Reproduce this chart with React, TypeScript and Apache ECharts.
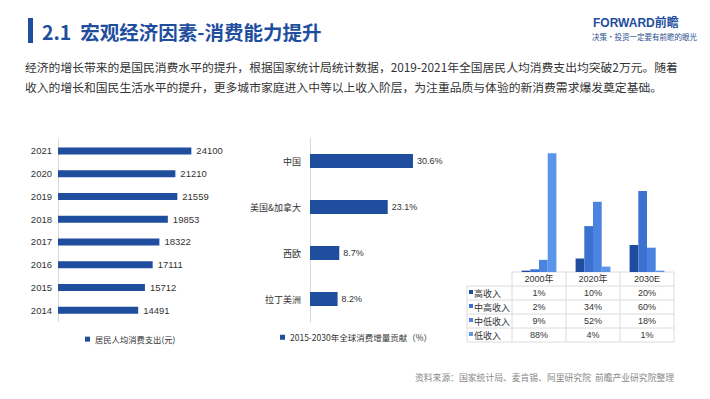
import React, { useEffect, useRef } from "react";
import * as echarts from "echarts";

const years = ["2021", "2020", "2019", "2018", "2017", "2016", "2015", "2014"];
const spending = [24100, 21210, 21559, 19853, 18322, 17111, 15712, 14491];
const spendingName = "居民人均消费支出(元)";

const regions = ["中国", "美国&加拿大", "西欧", "拉丁美洲"];
const contribution = [30.6, 23.1, 8.7, 8.2];
const contributionName = "2015-2030年全球消费增量贡献（%）";

const periods = ["2000年", "2020年", "2030E"];
const incomeGroups = ["高收入", "中高收入", "中低收入", "低收入"];
const high = [1, 10, 20];
const upperMid = [2, 34, 60];
const lowerMid = [9, 52, 18];
const low = [88, 4, 1];
const incomeData = [high, upperMid, lowerMid, low];
const incomeColors = ["#1f4c9e", "#3c72cf", "#4a84e0", "#5a95ea"];

const titleText = "2.1  宏观经济因素-消费能力提升";
const paraLine1 = "经济的增长带来的是国民消费水平的提升，根据国家统计局统计数据，2019-2021年全国居民人均消费支出均突破2万元。随着";
const paraLine2 = "收入的增长和国民生活水平的提升，更多城市家庭进入中等以上收入阶层，为注重品质与体验的新消费需求爆发奠定基础。";
const sourceText = "资料来源：国家统计局、麦肯锡、阿里研究院  前瞻产业研究院整理";

const BLUE = "#1f4e9f";
const FONT = "'Liberation Sans', 'Noto Sans CJK SC', sans-serif";
const CJK = "'Noto Sans CJK SC', 'Liberation Sans', sans-serif";

export default function App() {
  const ref = useRef<HTMLDivElement>(null);
  useEffect(() => {
    document.body.style.margin = "0";
    const chart = echarts.init(ref.current!, null, { renderer: "svg" });

    // table geometry for the right chart
    const tLeft = 512, colW = 54, tTop = 272, headH = 14, rowH = 14, labelLeft = 467;
    const tRight = tLeft + colW * periods.length;
    const tBottom = tTop + headH + rowH * incomeGroups.length;
    const lineStyle = { stroke: "#dcdcdc", lineWidth: 1 };
    const tableEls: any[] = [];
    tableEls.push({ type: "line", shape: { x1: tLeft, y1: tTop, x2: tRight, y2: tTop }, style: lineStyle });
    for (let r = 0; r <= incomeGroups.length; r++) {
      const y = tTop + headH + r * rowH;
      tableEls.push({ type: "line", shape: { x1: labelLeft, y1: y, x2: tRight, y2: y }, style: lineStyle });
    }
    tableEls.push({ type: "line", shape: { x1: labelLeft, y1: tTop + headH, x2: labelLeft, y2: tBottom }, style: lineStyle });
    for (let c = 0; c <= periods.length; c++) {
      const x = tLeft + c * colW;
      tableEls.push({ type: "line", shape: { x1: x, y1: tTop, x2: x, y2: tBottom }, style: lineStyle });
    }
    periods.forEach((p, c) => {
      tableEls.push({
        type: "text", x: tLeft + c * colW + colW / 2, y: tTop + headH / 2,
        style: { text: p, font: `9px ${FONT}`, fill: "#333", align: "center", verticalAlign: "middle" },
      });
    });
    incomeGroups.forEach((g, r) => {
      const cy = tTop + headH + r * rowH + rowH / 2;
      tableEls.push({ type: "rect", shape: { x: labelLeft + 2, y: cy - 3, width: 4, height: 4 }, style: { fill: incomeColors[r] } });
      tableEls.push({
        type: "text", x: labelLeft + 7, y: cy,
        style: { text: g, font: `9px ${CJK}`, fill: "#333", align: "left", verticalAlign: "middle" },
      });
      incomeData[r].forEach((v, c) => {
        tableEls.push({
          type: "text", x: tLeft + c * colW + colW / 2, y: cy,
          style: { text: `${v}%`, font: `9px ${FONT}`, fill: "#333", align: "center", verticalAlign: "middle" },
        });
      });
    });

    const option: any = {
      animation: false,
      backgroundColor: "#ffffff",
      legend: [
        {
          data: [spendingName], left: 80, top: 330, itemWidth: 5, itemHeight: 5, itemGap: 4,
          icon: "rect", textStyle: { fontSize: 8.3, color: "#333", fontFamily: CJK },
        },
        {
          data: [contributionName], left: 275, top: 328, itemWidth: 5, itemHeight: 5, itemGap: 4,
          icon: "rect", textStyle: { fontSize: 8.5, color: "#333", fontFamily: CJK },
        },
      ],
      grid: [
        { left: 58, top: 139.5, width: 166, height: 182 },
        { left: 310, top: 138, width: 134.6, height: 184 },
        { left: tLeft, top: 137, width: colW * periods.length, height: 135 },
      ],
      xAxis: [
        { gridIndex: 0, type: "value", min: 0, max: 30000, show: false },
        { gridIndex: 1, type: "value", min: 0, max: 40, show: false },
        {
          gridIndex: 2, type: "category", data: periods,
          axisLine: { show: false }, axisTick: { show: false }, axisLabel: { show: false },
        },
      ],
      yAxis: [
        {
          gridIndex: 0, type: "category", data: years, inverse: true,
          axisLine: { show: true, lineStyle: { color: "#d9d9d9" } }, axisTick: { show: false },
          axisLabel: { fontSize: 9.5, color: "#333", fontFamily: FONT, margin: 6 },
        },
        {
          gridIndex: 1, type: "category", data: regions, inverse: true,
          axisLine: { show: true, lineStyle: { color: "#d9d9d9" } }, axisTick: { show: false },
          axisLabel: { fontSize: 9, color: "#333", fontFamily: CJK, margin: 9 },
        },
        { gridIndex: 2, type: "value", min: 0, max: 100, show: false },
      ],
      series: [
        {
          name: spendingName, type: "bar", xAxisIndex: 0, yAxisIndex: 0, data: spending,
          barWidth: 7, itemStyle: { color: BLUE },
          label: { show: true, position: "right", distance: 5, fontSize: 9.5, color: "#333", fontFamily: FONT },
        },
        {
          name: contributionName, type: "bar", xAxisIndex: 1, yAxisIndex: 1, data: contribution,
          barWidth: 14, itemStyle: { color: BLUE },
          label: {
            show: true, position: "right", distance: 4, fontSize: 9, color: "#333", fontFamily: FONT,
            formatter: (p: any) => `${p.value}%`,
          },
        },
        ...incomeGroups.map((g, i) => ({
          name: g, type: "bar", xAxisIndex: 2, yAxisIndex: 2, data: incomeData[i],
          barWidth: 8.7, barGap: "0%", itemStyle: { color: incomeColors[i] },
        })),
      ],
      graphic: [
        { type: "rect", shape: { x: 28, y: 18, width: 5, height: 25 }, style: { fill: BLUE } },
        {
          type: "text", x: 42, y: 31,
          style: { text: titleText, font: `bold 19.5px ${CJK}`, fill: BLUE, verticalAlign: "middle" },
        },
        {
          type: "text", x: 593, y: 23,
          style: { text: "FORWARD前瞻", font: `bold 12px ${FONT}`, fill: BLUE, verticalAlign: "middle" },
        },
        {
          type: "text", x: 592, y: 36,
          style: { text: "决策·投资一定要有前瞻的眼光", font: `7.5px ${CJK}`, fill: "#2a4e8f", verticalAlign: "middle" },
        },
        {
          type: "text", x: 25, y: 66,
          style: { text: paraLine1, font: `11.8px ${CJK}`, fill: "#333", verticalAlign: "middle" },
        },
        {
          type: "text", x: 25, y: 86,
          style: { text: paraLine2, font: `11.8px ${CJK}`, fill: "#333", verticalAlign: "middle" },
        },
        {
          type: "text", x: 415, y: 377,
          style: { text: sourceText, font: `8.8px ${CJK}`, fill: "#888", verticalAlign: "middle" },
        },
        ...tableEls,
      ],
    };
    chart.setOption(option);
    return () => chart.dispose();
  }, []);
  return (
    <div
      ref={ref}
      style={{ position: "absolute", left: 0, top: 0, width: 710, height: 399 }}
    />
  );
}
